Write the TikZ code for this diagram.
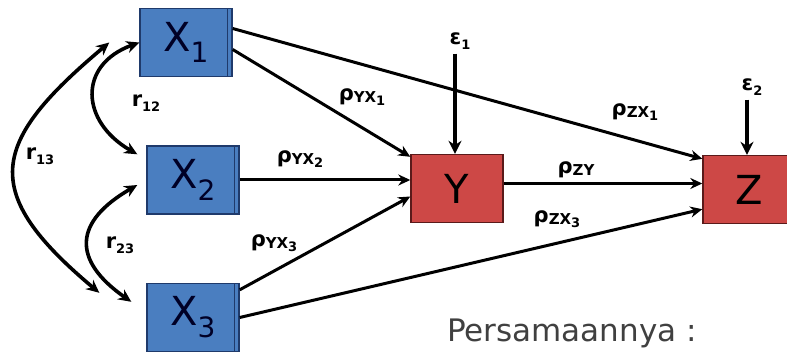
\documentclass[tikz,border=0pt]{standalone}
\usepackage{fontspec}
\setmainfont{DejaVu Sans}
\usepackage{tikz}
\usetikzlibrary{arrows.meta}
\usetikzlibrary{positioning}

\definecolor{boxblue}{RGB}{74,126,192}
\definecolor{lineblue}{RGB}{31,58,107}
\definecolor{boxred}{RGB}{205,72,70}
\definecolor{linered}{RGB}{90,26,26}

% coefficient with a two level subscript
\newcommand{\coefsub}[3]{#1\raisebox{-2pt}{\fontsize{15}{15}\selectfont #2\raisebox{-3pt}{\fontsize{13}{13}\selectfont #3}}}

\tikzset{
  varbox/.style={draw, line width=1.4pt, minimum width=92pt, minimum height=68pt,
    inner sep=0pt, text=black!85!blue, font=\fontsize{40}{40}\selectfont,
    path picture={\draw[line width=0.9pt] ([xshift=-5pt]path picture bounding box.north east)
      -- ([xshift=-5pt]path picture bounding box.south east);}},
  exobox/.style={varbox, fill=boxblue, draw=lineblue},
  endobox/.style={varbox, fill=boxred, draw=linered, text=black, path picture={}},
  coef/.style={font=\fontsize{21}{21}\bfseries\selectfont, inner sep=1pt},
  path/.style={line width=3pt, -{Stealth[length=12pt,width=11pt]}},
  corr/.style={line width=3.6pt, {Stealth[length=13pt,width=12pt]}-{Stealth[length=13pt,width=12pt]}},
  errarrow/.style={line width=4.6pt, -{Stealth[length=13pt,width=13pt]}}
}

\begin{document}
\begin{tikzpicture}[x=1pt,y=1pt]
    \clip (0,0) rectangle (787,351);
    \fill[white] (0,0) rectangle (787,351);
    % variables
    \node[exobox] (X1) at (186,308.5) {X\textsubscript{1}};
    \node[exobox] (X2) at (193,171) {X\textsubscript{2}};
    \node[exobox] (X3) at (193,33.5) {X\textsubscript{3}};
    \node[endobox] (Y) at (457,162.5) {Y};
    \node[endobox] (Z) at (749,161.5) {Z};
    % errors
    \node[coef] (e1) at (460,310) {\coefsub{ε}{}{1}};
    \node[coef] (e2) at (752,264) {\coefsub{ε}{}{2}};
    \draw[errarrow] ([xshift=-5pt,yshift=-3pt]e1.south) -- ([xshift=-5pt]e1.south |- Y.north);
    \draw[errarrow] ([xshift=-5pt,yshift=-3pt]e2.south) -- ([xshift=-5pt]e2.south |- Z.north);
    % paths
    \draw[path] ([yshift=-7pt]X1.east) -- ([yshift=-3pt]Y.north west);
    \draw[path] ([yshift=14pt]X1.east) -- ([yshift=-4pt]Z.north west);
    \draw[path] (X2.east) -- (X2.east -| Y.west);
    \draw[path] ([yshift=-7pt]X3.north east) -- ([yshift=-8pt]Y.west);
    \draw[path] (X3.east) -- ([yshift=15pt]Z.south west);
    \draw[path] ([yshift=5pt]Y.east) -- ([yshift=5pt]Y.east -| Z.west);
    % correlations
    \draw[corr] (X1.west) to[out=200, in=150, looseness=1.5] ([xshift=-9pt,yshift=-9pt]X2.north west);
    \draw[corr] ([xshift=-30pt]X1.west) to[out=220, in=140, looseness=1.6] ([xshift=-47pt,yshift=-10pt]X3.north west);
    \draw[corr] ([xshift=-9pt,yshift=-5pt]X2.west) to[out=210, in=145, looseness=1.6] ([xshift=-15pt,yshift=-19pt]X3.north west);
    % labels
    \node[coef] (pyx1) at (362,254) {\coefsub{ρ}{YX}{1}};
    \node[coef] (pyx2) at (300,192) {\coefsub{ρ}{YX}{2}};
    \node[coef] (pyx3) at (274,108) {\coefsub{ρ}{YX}{3}};
    \node[coef] (pzx1) at (635,239) {\coefsub{ρ}{ZX}{1}};
    \node[coef] (pzy) at (576,181) {\coefsub{ρ}{ZY}{}};
    \node[coef] (pzx3) at (557,132) {\coefsub{ρ}{ZX}{3}};
    \node[coef] (r12) at (146,248) {\coefsub{r}{}{12}};
    \node[coef] (r13) at (40,195) {\coefsub{r}{}{13}};
    \node[coef] (r23) at (120,106) {\coefsub{r}{}{23}};
    \node[font=\fontsize{31}{31}\selectfont, text=black!75, anchor=base] (eq) at (572,10) {Persamaannya :};
\end{tikzpicture}
\end{document}
